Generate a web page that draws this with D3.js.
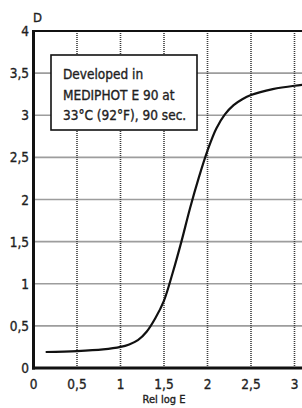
<!DOCTYPE html>
<meta charset="utf-8">
<head>
  <script src="https://d3js.org/d3.v7.min.js"></script>
  <style>
    body { margin: 0; background: #fff; }
    svg { display: block; }
    .lbl { font-family: "DejaVu Sans Condensed", "Liberation Sans", sans-serif; font-stretch: condensed; fill: #1f1f1f; stroke: #1f1f1f; stroke-width: 0.35px; }
    .grid line { stroke: #3a3a3a; stroke-width: 1.6px; stroke-dasharray: 1,1; }
  </style>
</head>
<body>
<script>

// characteristic curve
var logE = [0.14, 0.5, 0.8, 1.0, 1.1, 1.2, 1.3, 1.4, 1.5, 1.6, 1.7, 1.8, 1.9, 2.0, 2.1, 2.2, 2.3, 2.4, 2.5, 2.75, 3.0, 3.2];
var dens = [0.19, 0.2, 0.22, 0.25, 0.28, 0.33, 0.43, 0.59, 0.8, 1.13, 1.5, 1.9, 2.26, 2.58, 2.84, 3.01, 3.12, 3.19, 3.24, 3.31, 3.35, 3.37];

var xTicks = [0, 0.5, 1, 1.5, 2, 2.5, 3];
var yTicks = [0, 0.5, 1, 1.5, 2, 2.5, 3, 3.5, 4];
var note = ["Developed in", "MEDIPHOT E 90 at", "33°C (92°F), 90 sec."];

var W = 302, H = 408;
var mLeft = 33.5, mTop = 31, mBottom = 368;

var x = d3.scaleLinear().domain([0, 3.5]).range([mLeft, mLeft + 7 * 43.5]);
var y = d3.scaleLinear().domain([0, 4]).range([mBottom, mTop]);

var svg = d3.select("body").append("svg")
    .attr("width", W)
    .attr("height", H);

var fmt = function(d) { return String(d).replace(".", ","); };

// dotted grid
var grid = svg.append("g").attr("class", "grid");
grid.selectAll("line.v")
    .data(xTicks.slice(1))
  .enter().append("line")
    .attr("x1", function(d) { return x(d); })
    .attr("x2", function(d) { return x(d); })
    .attr("y1", mTop)
    .attr("y2", mBottom);
grid.selectAll("line.h")
    .data(yTicks.slice(1, -1))
  .enter().append("line")
    .attr("x1", mLeft)
    .attr("x2", W + 40)
    .attr("y1", function(d) { return y(d); })
    .attr("y2", function(d) { return y(d); });

// frame
svg.append("line")
    .attr("x1", mLeft).attr("x2", W + 40)
    .attr("y1", mTop).attr("y2", mTop)
    .attr("stroke", "#111").attr("stroke-width", 2);
svg.append("line")
    .attr("x1", mLeft).attr("x2", mLeft)
    .attr("y1", mTop - 1).attr("y2", mBottom + 1.5)
    .attr("stroke", "#111").attr("stroke-width", 3);
svg.append("line")
    .attr("x1", mLeft - 1.5).attr("x2", W + 40)
    .attr("y1", mBottom).attr("y2", mBottom)
    .attr("stroke", "#111").attr("stroke-width", 3);

// curve
var line = d3.line()
    .x(function(d, i) { return x(logE[i]); })
    .y(function(d) { return y(d); })
    .curve(d3.curveCatmullRom.alpha(0.5));

svg.append("path")
    .datum(dens)
    .attr("d", line)
    .attr("fill", "none")
    .attr("stroke", "#111")
    .attr("stroke-width", 2.2);

// note box
svg.append("rect")
    .attr("x", 51).attr("y", 55)
    .attr("width", 146).attr("height", 75)
    .attr("fill", "#fff")
    .attr("stroke", "#111")
    .attr("stroke-width", 1.6);

svg.append("g").selectAll("text")
    .data(note)
  .enter().append("text")
    .attr("class", "lbl")
    .attr("x", 63)
    .attr("y", function(d, i) { return 79 + i * 20.5; })
    .style("font-size", "13.5px")
    .text(function(d) { return d; });

// tick labels
svg.append("g").selectAll("text")
    .data(yTicks)
  .enter().append("text")
    .attr("class", "lbl")
    .attr("x", 29)
    .attr("y", function(d) { return y(d) + 5; })
    .attr("text-anchor", "end")
    .style("font-size", "13.5px")
    .text(fmt);

svg.append("g").selectAll("text")
    .data(xTicks)
  .enter().append("text")
    .attr("class", "lbl")
    .attr("x", function(d) { return x(d); })
    .attr("y", 389)
    .attr("text-anchor", "middle")
    .style("font-size", "13.5px")
    .text(fmt);

svg.append("text")
    .attr("class", "lbl")
    .attr("x", 33).attr("y", 22)
    .style("font-size", "13px")
    .text("D");

svg.append("text")
    .attr("class", "lbl")
    .attr("x", x(1.5)).attr("y", 403)
    .attr("text-anchor", "middle")
    .style("font-size", "11px")
    .text("Rel log E");

</script>
</body>
